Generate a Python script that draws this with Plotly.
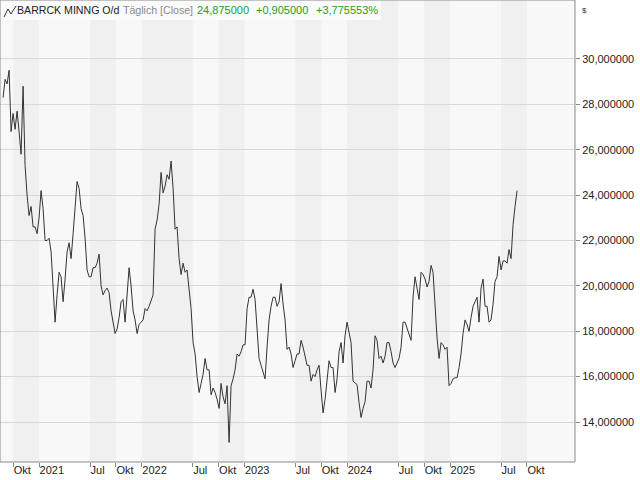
import pandas as pd
import plotly.graph_objects as go

# ---- data (weekly closes) ----
close_2020_21 = [28.3, 29.1, 28.9, 29.5, 26.8, 27.6, 26.9, 27.7, 26.8, 25.8, 28.8, 25.3, 24.0, 23.1, 23.5,
                 22.6, 22.6, 22.3, 23.0, 24.2, 23.4, 22.0, 22.0, 22.1, 21.5, 19.7, 18.4, 19.6, 20.6, 20.4,
                 19.3, 20.3, 21.5, 21.9, 21.2, 22.3, 23.3, 24.6, 24.3, 23.4, 23.1, 22.1, 20.7, 20.4]
close_2021_22 = [20.4, 20.8, 20.8, 21.0, 21.4, 20.0, 19.6, 19.8, 19.9, 19.7, 18.9, 18.35, 17.9, 18.1, 18.6,
                 19.3, 19.4, 18.4, 19.8, 20.8, 20.0, 18.9, 18.5, 17.9, 18.3, 18.4, 18.5, 19.0, 18.9, 19.1,
                 19.4, 19.6, 22.5, 22.9, 23.6, 25.0, 24.1, 24.4, 24.9, 24.7, 25.5, 24.3, 22.5, 22.6]
close_2022_23 = [21.2, 20.5, 21.0, 20.6, 20.7, 19.9, 19.0, 17.5, 17.0, 16.0, 15.3, 15.7, 16.1, 16.8, 16.3,
                 16.3, 15.2, 15.5, 15.3, 15.0, 14.6, 15.7, 15.1, 14.8, 15.6, 13.1, 15.6, 15.9, 16.3, 17.0,
                 16.9, 17.1, 17.4, 17.4, 19.0, 19.5, 19.5, 19.85, 19.4, 18.1, 16.8, 16.5, 16.2, 15.9]
close_2023_24 = [17.3, 18.5, 19.1, 19.5, 19.5, 19.1, 19.3, 20.1, 19.2, 18.5, 17.2, 17.3, 17.0, 16.4, 16.7,
                 17.0, 17.0, 17.6, 17.3, 16.85, 16.5, 16.5, 15.8, 16.1, 16.0, 16.3, 16.5, 15.4, 14.4, 15.0,
                 16.0, 16.7, 16.4, 16.4, 15.3, 15.9, 17.1, 17.5, 16.6, 17.8, 18.4, 17.9, 17.5, 15.8]
close_2024_25 = [15.7, 15.65, 14.85, 14.2, 14.6, 14.9, 15.8, 15.8, 15.5, 16.3, 17.8, 17.6, 16.8, 16.9, 16.6,
                 16.9, 17.5, 17.5, 17.1, 16.6, 16.4, 16.6, 16.8, 17.3, 18.4, 18.4, 18.1, 17.8, 17.6, 19.5,
                 20.4, 19.9, 19.4, 20.6, 20.5, 20.3, 19.95, 20.2, 20.9, 20.6, 19.0, 17.7, 16.8, 17.5]
close_2025 = [17.4, 17.2, 17.3, 15.6, 15.7, 15.9, 15.95, 15.95, 16.4, 17.0, 17.9, 18.5, 18.3, 18.0, 18.6,
              19.1, 19.3, 19.5, 18.4, 19.9, 20.3, 19.1, 19.1, 18.4, 18.5, 19.2, 20.2, 20.4, 21.3, 20.7,
              21.1, 21.1, 21.0, 21.6, 21.2, 22.7, 23.5, 24.2]

first_date = "2020-08-26"
last_date = "2025-08-27"

tick_dates = ["2020-10-01", "2021-01-01", "2021-07-01", "2021-10-01", "2022-01-01", "2022-07-01",
              "2022-10-01", "2023-01-01", "2023-07-01", "2023-10-01", "2024-01-01", "2024-07-01",
              "2024-10-01", "2025-01-01", "2025-07-01", "2025-10-01"]
tick_text = ["Okt", "2021", "Jul", "Okt", "2022", "Jul", "Okt", "2023", "Jul", "Okt", "2024", "Jul",
             "Okt", "2025", "Jul", "Okt"]
y_ticks = [14, 16, 18, 20, 22, 24, 26, 28, 30]

title_name = "BARRCK MINNG O/d"
title_mode = "Täglich [Close]"
last_close = "24,875000"
change_abs = "+0,905000"
change_pct = "+3,775553%"

# ---- figure ----
values = close_2020_21 + close_2021_22 + close_2022_23 + close_2023_24 + close_2024_25 + close_2025
dates = pd.date_range(first_date, last_date, periods=len(values))

FONT = "Tahoma, 'Liberation Sans', Arial, sans-serif"
W, H = 640, 480
ML, MR, MT, MB = 0, 65, 0, 18
PW, PH = W - ML - MR, H - MT - MB


def px(x):
    return x / PW


def py(y):
    return 1 - y / PH


fig = go.Figure()
fig.add_trace(go.Scatter(x=dates, y=values, mode="lines",
                         line=dict(color="#333333", width=1), hoverinfo="skip", showlegend=False))

shapes = []
for i in range(0, len(tick_dates) - 1, 2):
    shapes.append(dict(type="rect", xref="x", yref="paper", x0=tick_dates[i], x1=tick_dates[i + 1],
                       y0=0, y1=1, fillcolor="#f0f0f0", line=dict(width=0), layer="below"))
# header box
shapes.append(dict(type="rect", xref="paper", yref="paper", x0=0, x1=px(381), y0=py(20), y1=1,
                   fillcolor="#fbfbfb", line=dict(width=0), layer="above"))
# icon
shapes.append(dict(type="path", xref="paper", yref="paper",
                   path=f"M {px(4)},{py(17)} L {px(8)},{py(9)} L {px(11)},{py(14)} L {px(16)},{py(6)}",
                   line=dict(color="#333333", width=1), layer="above"))
# frame
shapes.append(dict(type="rect", xref="paper", yref="paper", x0=0, x1=1, y0=0, y1=1,
                   line=dict(color="#8a8a8a", width=1), layer="above"))

ann = []
def hdr(x, text, color, size=11):
    ann.append(dict(xref="paper", yref="paper", x=px(x), y=py(10), xanchor="left", yanchor="middle",
                    text=text, showarrow=False, borderpad=0,
                    font=dict(family=FONT, size=size, color=color)))

hdr(16, title_name, "#222222", 10.6)
hdr(122, title_mode, "#8a8a8a", 10.6)
hdr(196, last_close, "#21a021")
hdr(255, change_abs, "#21a021")
hdr(315, change_pct, "#21a021")
ann.append(dict(xref="paper", yref="paper", x=px(580), y=py(10), xanchor="left", yanchor="middle",
                text="$", showarrow=False, font=dict(family=FONT, size=8, color="#333333")))

fig.update_layout(
    width=W, height=H, margin=dict(l=ML, r=MR, t=MT, b=MB, pad=0, autoexpand=False),
    paper_bgcolor="white", plot_bgcolor="#f8f8f8",
    separators=",.",
    shapes=shapes, annotations=ann,
    xaxis=dict(type="date", range=["2020-08-15", "2026-03-21"], tickvals=tick_dates, ticktext=tick_text,
               ticks="outside", ticklen=4, tickcolor="#888888", ticklabelposition="outside right",
               tickangle=0, ticklabelstandoff=-2,
               showgrid=False, zeroline=False, showline=False, automargin=False,
               tickfont=dict(family=FONT, size=11, color="#222222")),
    yaxis=dict(side="right", range=[12.237, 32.6], tickvals=y_ticks, tickformat=".6f",
               ticks="outside", ticklen=4, tickcolor="#888888", automargin=False,
               showgrid=True, gridcolor="#d9d9d9", gridwidth=1, zeroline=False, showline=False,
               tickfont=dict(family=FONT, size=11, color="#222222")),
)

fig.write_html("out.html", config={"displayModeBar": False},
               post_script="document.body.style.margin='0';document.body.style.overflow='hidden';")
